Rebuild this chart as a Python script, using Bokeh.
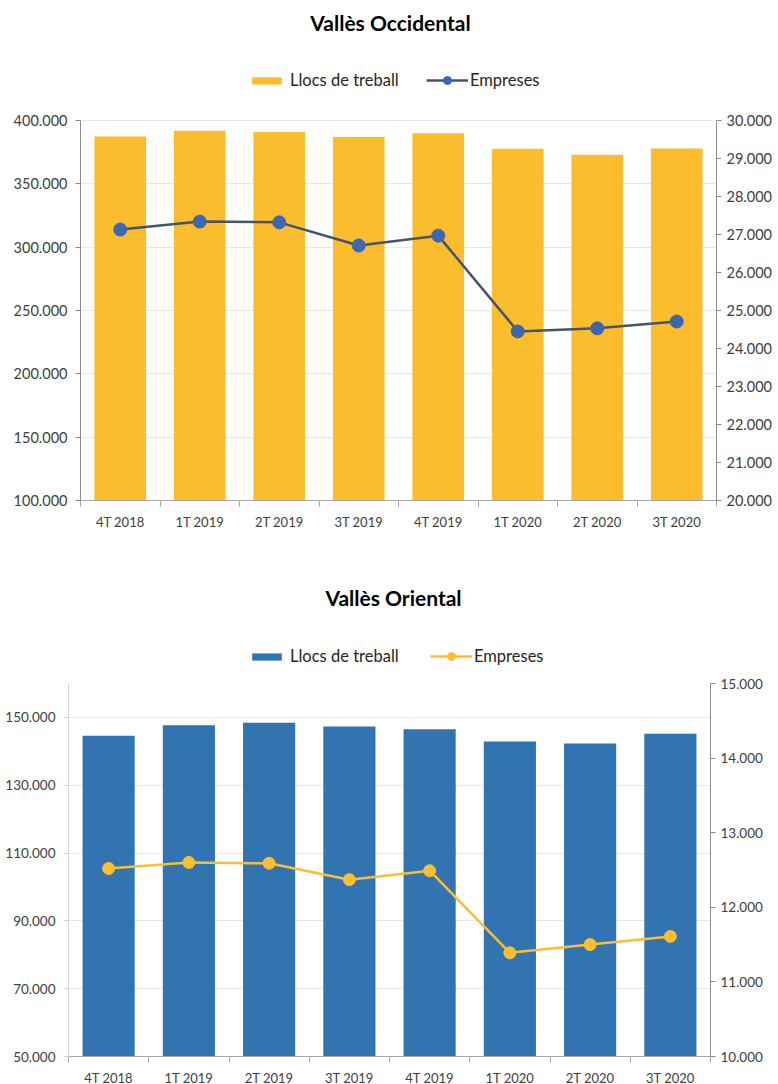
from bokeh.plotting import figure
from bokeh.models import Range1d, LinearAxis, FixedTicker, Legend, LegendItem, Label
from bokeh.layouts import column, row
from bokeh.embed import file_html
from bokeh.resources import INLINE

# ---------------- data ----------------
quarters = ["4T 2018", "1T 2019", "2T 2019", "3T 2019", "4T 2019", "1T 2020", "2T 2020", "3T 2020"]

occ_llocs = [387400, 392000, 391000, 387000, 390000, 377600, 373000, 377800]
occ_empreses = [27130, 27340, 27320, 26710, 26970, 24450, 24530, 24710]

ori_llocs = [144600, 147700, 148400, 147300, 146500, 142900, 142300, 145200]
ori_empreses = [12520, 12600, 12590, 12370, 12490, 11390, 11500, 11610]

occ_left_ticks = [100000, 150000, 200000, 250000, 300000, 350000, 400000]
occ_right_ticks = [20000, 21000, 22000, 23000, 24000, 25000, 26000, 27000, 28000, 29000, 30000]
ori_left_ticks = [50000, 70000, 90000, 110000, 130000, 150000]
ori_right_ticks = [10000, 11000, 12000, 13000, 14000, 15000]

FONT = "Lato"
TXT = "#404040"


def fmt(v):
    return f"{v:,}".replace(",", ".")


def make_chart(title, llocs, empreses, bar_color, line_color, marker_color,
               left_range, right_range, left_ticks, right_ticks,
               border_l, frame_w, border_r, top_px, data_h, border_b,
               title_dx, title_up, leg1_x, leg2_x, leg_center_up,
               left_axis_color, right_axis_color, marker_size, tick_size):
    n = len(quarters)
    xs = [i + 0.5 for i in range(n)]
    frame_h = top_px + data_h
    ppy = (left_range[1] - left_range[0]) / data_h
    ppy_r = (right_range[1] - right_range[0]) / data_h
    ppx = n / frame_w
    p = figure(frame_width=frame_w, frame_height=frame_h,
               min_border_left=border_l, min_border_right=border_r,
               min_border_top=0, min_border_bottom=border_b,
               x_range=Range1d(0, n),
               y_range=Range1d(left_range[0], left_range[1] + top_px * ppy),
               output_backend="svg", toolbar_location=None, tools="")
    p.extra_y_ranges = {"right": Range1d(right_range[0], right_range[1] + top_px * ppy_r)}
    p.outline_line_color = None
    p.background_fill_color = "white"
    p.border_fill_color = "white"

    bars = p.vbar(x=xs, top=llocs, bottom=0, width=0.65,
                  fill_color=bar_color, line_color=None)
    line = p.line(x=xs, y=empreses, y_range_name="right",
                  line_color=line_color, line_width=2.5)
    dots = p.scatter(x=xs, y=empreses, y_range_name="right", size=marker_size,
                     fill_color=marker_color, line_color=marker_color)

    # x axis: labels at centres, tick marks at category boundaries
    xa = p.xaxis[0]
    xa.ticker = FixedTicker(ticks=xs, minor_ticks=list(range(n + 1)))
    xa.major_label_overrides = {x: q for x, q in zip(xs, quarters)}
    xa.major_tick_line_color = None
    xa.major_tick_out = 0
    xa.major_tick_in = 0
    xa.minor_tick_out = 6
    xa.minor_tick_in = 0
    xa.minor_tick_line_color = "#a6a6a6"
    xa.axis_line_color = "#a6a6a6"
    xa.major_label_standoff = 7
    xa.major_label_text_font = FONT
    xa.major_label_text_font_size = "13px"
    xa.major_label_text_color = TXT

    ya = p.yaxis[0]
    ya.ticker = FixedTicker(ticks=left_ticks)
    ya.bounds = left_range
    ya.major_label_overrides = {v: fmt(v) for v in left_ticks}
    ya.axis_line_color = left_axis_color
    ya.major_tick_line_color = left_axis_color
    ya.major_tick_out = 5
    ya.major_tick_in = 0
    ya.minor_tick_line_color = None
    ya.major_label_standoff = 8
    ya.major_label_text_font = FONT
    ya.major_label_text_font_size = tick_size
    ya.major_label_text_color = TXT

    ra = LinearAxis(y_range_name="right", ticker=FixedTicker(ticks=right_ticks), bounds=right_range)
    ra.major_label_overrides = {v: fmt(v) for v in right_ticks}
    ra.axis_line_color = right_axis_color
    ra.major_tick_line_color = right_axis_color
    ra.major_tick_out = 5
    ra.major_tick_in = 0
    ra.minor_tick_line_color = None
    ra.major_label_standoff = 5
    ra.major_label_text_font = FONT
    ra.major_label_text_font_size = tick_size
    ra.major_label_text_color = TXT
    p.add_layout(ra, "right")

    p.xgrid.grid_line_color = None
    p.ygrid.ticker = FixedTicker(ticks=left_ticks)
    p.ygrid.grid_line_color = "#e8e8e8"

    # title (placed above the data area)
    p.add_layout(Label(x=n / 2 + title_dx * ppx, y=left_range[1] + title_up * ppy,
                       text=title, text_align="center", text_baseline="middle",
                       text_font=FONT, text_font_style="bold", text_font_size="21px",
                       text_color="#000000"))

    leg_y = data_h + leg_center_up - 10
    leg1 = Legend(items=[LegendItem(label="Llocs de treball", renderers=[bars])],
                  location=(leg1_x, leg_y), orientation="horizontal",
                  glyph_width=37, glyph_height=9, padding=0, margin=0,
                  label_standoff=5, border_line_color=None, background_fill_alpha=0,
                  label_text_font=FONT, label_text_font_size="16.5px", label_text_color="#262626")
    leg2 = Legend(items=[LegendItem(label="Empreses", renderers=[line, dots])],
                  location=(leg2_x, leg_y), orientation="horizontal",
                  glyph_width=42, glyph_height=20, padding=0, margin=0,
                  label_standoff=2, border_line_color=None, background_fill_alpha=0,
                  label_text_font=FONT, label_text_font_size="16.5px", label_text_color="#262626")
    p.add_layout(leg1, "center")
    p.add_layout(leg2, "center")
    return p


p1 = make_chart("Vallès Occidental", occ_llocs, occ_empreses,
                "#FBBC2D", "#44546A", "#3E67B1",
                (100000, 400000), (20000, 30000), occ_left_ticks, occ_right_ticks,
                80, 636, 62, 120, 380, 40,
                -8, 98, 168, 346, 40,
                "#8c8c8c", "#8c8c8c", 13, "14.5px")

p2 = make_chart("Vallès Oriental", ori_llocs, ori_empreses,
                "#3174B1", "#FBBE32", "#FBBE32",
                (50000, 160000), (10000, 15000), ori_left_ticks, ori_right_ticks,
                68, 642, 68, 143, 373, 24,
                4, 86, 180, 362, 27,
                "#d4d4d4", "#8c8c8c", 12, "13.5px")

layout = column(row(p1), row(p2), spacing=0)
open("out.html", "w").write(file_html(layout, INLINE))
